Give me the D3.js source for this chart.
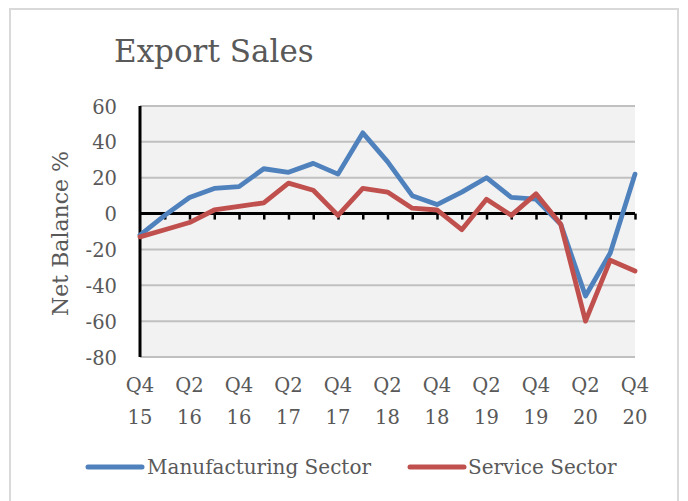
<!DOCTYPE html>
<html>
<head>
<meta charset="utf-8">
<script src="https://cdn.jsdelivr.net/npm/d3@7/dist/d3.min.js"></script>
<style>
  html, body { margin: 0; padding: 0; background: #ffffff; }
  svg { display: block; }
  text { font-family: "DejaVu Serif", "Liberation Serif", serif; fill: #595959; }
</style>
</head>
<body>
<svg id="chart" width="688" height="501"></svg>
<script>
// Quarterly net balances, Q4 2015 to Q4 2020
const quarters = ["Q4 15","Q1 16","Q2 16","Q3 16","Q4 16","Q1 17","Q2 17","Q3 17","Q4 17",
                  "Q1 18","Q2 18","Q3 18","Q4 18","Q1 19","Q2 19","Q3 19","Q4 19",
                  "Q1 20","Q2 20","Q3 20","Q4 20"];
const manufacturing = [-12, -1, 9, 14, 15, 25, 23, 28, 22, 45, 29, 10, 5, 12, 20, 9, 8, -6, -46, -22, 22];
const services      = [-13, -9, -5, 2, 4, 6, 17, 13, -1, 14, 12, 3, 2, -9, 8, -1, 11, -6, -60, -26, -32];
const yTicks = [-80, -60, -40, -20, 0, 20, 40, 60];
const seriesNames = ["Manufacturing Sector", "Service Sector"];
const seriesColors = ["#4f81bd", "#c0504d"];

const svg = d3.select("#chart");

// outer frame
svg.append("rect")
  .attr("x", 10).attr("y", 9).attr("width", 668).attr("height", 500)
  .attr("fill", "#ffffff").attr("stroke", "#d9d9d9").attr("stroke-width", 2);

const plot = { left: 140, right: 635, top: 106, bottom: 357 };

const x = d3.scalePoint().domain(quarters).range([plot.left, plot.right]);
const y = d3.scaleLinear().domain([-80, 60]).range([plot.bottom, plot.top]);

// plot background
svg.append("rect")
  .attr("x", plot.left).attr("y", plot.top)
  .attr("width", plot.right - plot.left).attr("height", plot.bottom - plot.top)
  .attr("fill", "#f2f2f2");

// horizontal gridlines
svg.append("g")
  .selectAll("line")
  .data(yTicks.filter(d => d !== 0))
  .join("line")
  .attr("x1", plot.left).attr("x2", plot.right)
  .attr("y1", d => y(d)).attr("y2", d => y(d))
  .attr("stroke", "#c0c0c0").attr("stroke-width", 2);

// y tick labels (plain hyphen for negatives)
const yAxis = d3.axisLeft(y).tickValues(yTicks).tickSize(0).tickPadding(0)
  .tickFormat(d => String(d));
const yg = svg.append("g").attr("transform", `translate(117,0)`).call(yAxis);
yg.select(".domain").remove();
yg.selectAll("text")
  .attr("font-family", null)
  .style("font-size", "19.5px")
  .attr("dy", "0.36em");

// y axis title
svg.append("text")
  .attr("transform", `translate(68,${(plot.top + plot.bottom) / 2 + 2}) rotate(-90)`)
  .attr("text-anchor", "middle")
  .style("font-size", "22px")
  .text("Net Balance %");

// zero line with category ticks
const xAxis = d3.axisBottom(x).tickSize(6).tickFormat("");
const xg = svg.append("g").attr("transform", `translate(0,${y(0)})`).call(xAxis);
xg.select(".domain").attr("stroke", "#000").attr("stroke-width", 3).attr("d", `M${plot.left},0H${plot.right}`);
xg.selectAll(".tick line").attr("stroke", "#000").attr("stroke-width", 2.5);
xg.selectAll(".tick").filter((d, i) => i === 0).remove();

// left axis line
svg.append("line")
  .attr("x1", plot.left).attr("x2", plot.left)
  .attr("y1", plot.top).attr("y2", plot.bottom)
  .attr("stroke", "#000").attr("stroke-width", 3);

// category labels, every second quarter, on two lines
const labelled = quarters.filter((d, i) => i % 2 === 0);
const lg = svg.append("g");
labelled.forEach(q => {
  const [qq, yy] = q.split(" ");
  const t = lg.append("text")
    .attr("text-anchor", "middle")
    .style("font-size", "19.5px");
  t.append("tspan").attr("x", x(q)).attr("y", 392).text(qq);
  t.append("tspan").attr("x", x(q)).attr("y", 424).text(yy);
});

// series lines
const line = d3.line().x((d, i) => x(quarters[i])).y(d => y(d));
[manufacturing, services].forEach((vals, k) => {
  svg.append("path")
    .datum(vals)
    .attr("d", line)
    .attr("fill", "none")
    .attr("stroke", seriesColors[k])
    .attr("stroke-width", 4.8)
    .attr("stroke-linejoin", "round")
    .attr("stroke-linecap", "round");
});

// legend
const legendItems = [
  { x0: 88, x1: 142, tx: 147 },
  { x0: 410, x1: 464, tx: 468 }
];
legendItems.forEach((it, k) => {
  svg.append("line")
    .attr("x1", it.x0).attr("x2", it.x1).attr("y1", 467).attr("y2", 467)
    .attr("stroke", seriesColors[k]).attr("stroke-width", 5).attr("stroke-linecap", "round");
  svg.append("text")
    .attr("x", it.tx).attr("y", 474)
    .style("font-size", "20px")
    .text(seriesNames[k]);
});

// chart title
svg.append("text")
  .attr("x", 114).attr("y", 62)
  .style("font-size", "31px")
  .text("Export Sales");
</script>
</body>
</html>
